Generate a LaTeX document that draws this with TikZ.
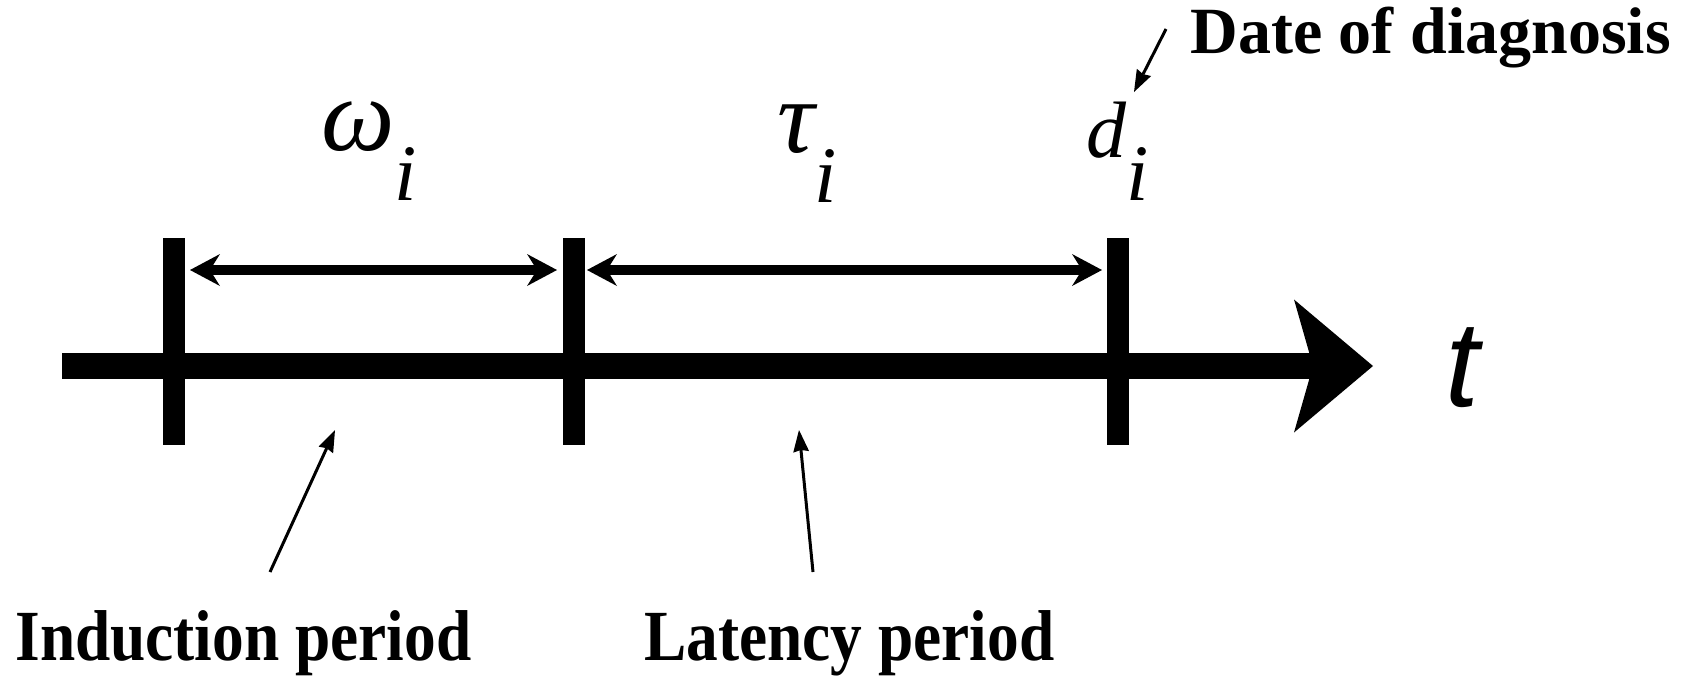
\documentclass[tikz,border=0pt]{standalone}
\usepackage{fontspec}
\setmainfont{Liberation Serif}
\newfontfamily\axisfont{Liberation Sans}
\newfontfamily\capfont[FakeStretch=0.88]{Liberation Serif}
\usetikzlibrary{arrows.meta,positioning}

\begin{document}
\begin{tikzpicture}[x=0.5pt,y=-0.5pt,
  axis/.style={line width=13pt,-{Stealth[length=39.5pt,width=66.5pt,inset=9.5pt,line width=0pt]}},
  tick/.style={line width=11pt},
  span/.style={line width=5.3pt,{Stealth[length=15pt,width=16pt,inset=5pt,line width=0pt]}-{Stealth[length=15pt,width=16pt,inset=5pt,line width=0pt]}},
  pointer/.style={line width=1.5pt,-{Stealth[length=11pt,width=8pt,inset=1pt,line width=0pt]}},
  lbl/.style={inner sep=0pt,anchor=base west,font=\capfont\bfseries\fontsize{36pt}{42pt}\selectfont},
  note/.style={inner sep=0pt,anchor=base west,font=\bfseries\fontsize{33pt}{39pt}\selectfont},
  sym/.style={inner sep=0pt,anchor=base west,font=\itshape\fontsize{40pt}{48pt}\selectfont}
]
  \useasboundingbox (0,0) rectangle (1697,676);

  % time axis and the three dates
  \coordinate (start) at (62,366);
  \coordinate (tip) at (1373,366);
  \draw[axis] (start) -- (tip);
  \foreach \n/\x in {expo/174,onset/574,diag/1118}{
    \coordinate (\n) at (\x,366);
    \draw[tick] (\x,238) -- (\x,445);
  }
  \node[inner sep=0pt,anchor=base west,font=\axisfont\itshape\fontsize{61pt}{70pt}\selectfont] (tlab) at (1445,406) {t};

  % periods
  \coordinate (w0) at (190,270);
  \coordinate (w1) at (557,270);
  \coordinate (r0) at (587,270);
  \coordinate (r1) at (1102,270);
  \draw[span] (w0) -- (w1);
  \draw[span] (r0) -- (r1);

  \node[sym] (omega) at (321,150) {{\fontsize{52pt}{60pt}\selectfont ω}\raisebox{-25pt}{i}};
  \node[sym] (tau) at (777,152) {{\fontsize{52pt}{60pt}\selectfont τ}\raisebox{-25pt}{i}};
  \node[sym] (dlab) at (1086,157) {d\raisebox{-21.5pt}{i}};

  % captions with pointers
  \node[note] (diagtxt) at (1190,53) {Date of diagnosis};
  \node[lbl] (induct) at (15,660) {Induction period};
  \node[lbl] (latent) at (644,660) {Latency period};

  \coordinate (a0) at (1166,29);
  \coordinate (a1) at (1134,92);
  \coordinate (b0) at (270,572);
  \coordinate (b1) at (335,430);
  \coordinate (c0) at (813,572);
  \coordinate (c1) at (799,430);
  \draw[pointer] (a0) -- (a1);
  \draw[pointer] (b0) -- (b1);
  \draw[pointer] (c0) -- (c1);
\end{tikzpicture}
\end{document}
